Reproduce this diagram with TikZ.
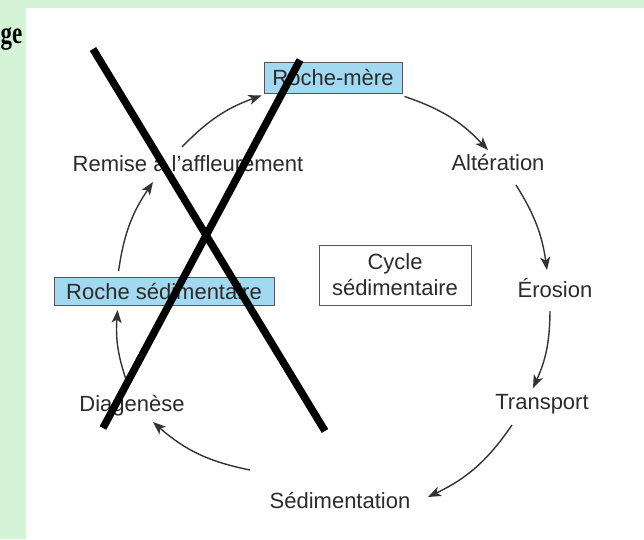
\documentclass[tikz,border=0pt]{standalone}
\usepackage{fontspec}
\setmainfont{Liberation Serif}
\newfontfamily\lsans{Liberation Sans}
\usetikzlibrary{arrows.meta}
\definecolor{bggreen}{HTML}{D5F4D7}
\definecolor{txtgray}{HTML}{2B2B2B}
\definecolor{boxblue}{HTML}{A3D9F0}
\definecolor{bordgray}{HTML}{555555}
\definecolor{arrgray}{HTML}{333333}
\tikzset{
  lbl/.style={inner sep=0pt, text=txtgray, font=\lsans\fontsize{22}{26}\selectfont},
  bluebox/.style={lbl, draw=bordgray, line width=0.9pt, fill=boxblue},
  whitebox/.style={lbl, draw=bordgray, line width=1pt, fill=white, align=center},
  cyc/.style={draw=arrgray, line width=1.4pt, -{Stealth[length=13pt,width=10pt,inset=3.5pt]}},
  cross/.style={draw=black, line width=7.5pt, line cap=butt}
}
\begin{document}
\begin{tikzpicture}[x=1pt,y=1pt]
\useasboundingbox (0,0) rectangle (644,-539);
\fill[bggreen] (0,0) rectangle (644,-539);
\fill[white] (26,-8) rectangle (644,-539);
\node[anchor=base east, inner sep=0pt, font=\fontsize{23}{28}\selectfont\bfseries] (ge) at (22.5,-43) {\scalebox{1}[1.35]{ge}};

\node[bluebox, minimum width=138pt, minimum height=31pt] (rm) at (333,-77.5) {Roche-mère};
\node[bluebox, minimum width=220pt, minimum height=28pt] (rs) at (164,-291.5) {Roche sédimentaire};
\node[whitebox, minimum width=152pt, minimum height=60pt] (cy) at (395,-275) {Cycle\\sédimentaire};

\node[lbl, anchor=base] (alt) at (498,-170) {Altération};
\node[lbl, anchor=base] (ero) at (555,-297) {Érosion};
\node[lbl, anchor=base] (tra) at (542,-409) {Transport};
\node[lbl, anchor=base] (sed) at (340,-508) {Sédimentation};
\node[lbl, anchor=base] (dia) at (132,-411) {Diagenèse};
\node[lbl, anchor=base] (rem) at (188,-171) {Remise à l’affleurement};

\draw[cyc] ([shift={(2,-3)}]rm.south east) to[bend left=14] ([shift={(-10,20)}]alt.base);
\draw[cyc] ([shift={(18,-15)}]alt.base) to[bend left=12] ([shift={(-8,27)}]ero.base);
\draw[cyc] ([shift={(-5,-14)}]ero.base) to[bend left=12] ([shift={(-9,21)}]tra.base);
\draw[cyc] ([shift={(-30,-16)}]tra.base) to[bend left=15] ([shift={(88,11)}]sed.base);
\draw[cyc] ([shift={(-90,38)}]sed.base) to[bend left=15] ([shift={(21,-11)}]dia.base);
\draw[cyc] ([shift={(-4,26)}]dia.base) to[bend left=12] ([shift={(64,-4)}]rs.south west);
\draw[cyc] ([shift={(65,6)}]rs.north west) to[bend left=13] ([shift={(-35,-11)}]rem.base);
\draw[cyc] ([shift={(-6,24)}]rem.base) to[bend left=13] ([shift={(-2,-2)}]rm.south west);

\coordinate (xa1) at (93,-49);
\coordinate (xa2) at (325,-431);
\coordinate (xb1) at (300,-60);
\coordinate (xb2) at (103,-428);
\draw[cross] (xa1) -- (xa2);
\draw[cross] (xb1) -- (xb2);
\end{tikzpicture}
\end{document}
